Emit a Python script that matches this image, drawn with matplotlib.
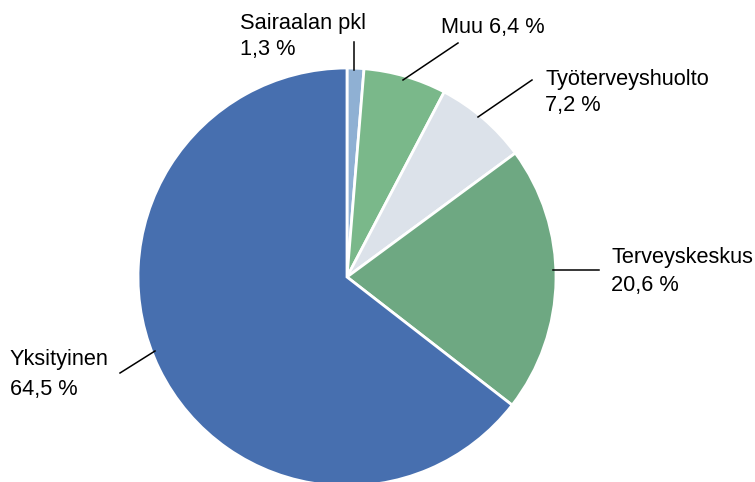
import matplotlib.pyplot as plt

W, H = 755, 482

categories = ['Sairaalan pkl', 'Muu', 'Työterveyshuolto', 'Terveyskeskus', 'Yksityinen']
shares = [1.3, 6.4, 7.2, 20.6, 64.5]
colors = ['#8FB0D3', '#7AB88A', '#DCE2EA', '#6EA882', '#476FAF']

plt.rcParams['font.family'] = ['Liberation Sans', 'DejaVu Sans']

fig = plt.figure(figsize=(W / 100, H / 100), dpi=100)
ax = fig.add_axes([0, 0, 1, 1])

# pixel coords, y measured from the top
def py(y):
    return H - y

ax.pie(shares, colors=colors, startangle=90, counterclock=False,
       center=(347, py(277)), radius=209,
       wedgeprops=dict(edgecolor='white', linewidth=2))
ax.set_xlim(0, W)
ax.set_ylim(0, H)
ax.set_aspect('equal')
ax.axis('off')

def pct(v):
    return f'{v:.1f}'.replace('.', ',') + ' %'

fs = 15.7
# leader lines
leaders = [((354, 70), (354, 42)),
           ((403, 80), (458, 43)),
           ((478, 117), (532, 80)),
           ((553, 270), (599, 270)),
           ((155, 351), (120, 373))]
for (x0, y0), (x1, y1) in leaders:
    ax.plot([x0, x1], [py(y0), py(y1)], color='black', lw=1.1)

ax.text(240, py(24), categories[0], fontsize=fs, va='center', ha='left')
ax.text(240, py(50), pct(shares[0]), fontsize=fs, va='center', ha='left')
ax.text(441, py(27), f'{categories[1]} {pct(shares[1])}', fontsize=fs, va='center', ha='left')
ax.text(545, py(80), categories[2], fontsize=fs, va='center', ha='left')
ax.text(545, py(105), pct(shares[2]), fontsize=fs, va='center', ha='left')
ax.text(611, py(257), categories[3], fontsize=fs, va='center', ha='left')
ax.text(611, py(286), pct(shares[3]), fontsize=fs, va='center', ha='left')
ax.text(10, py(360), categories[4], fontsize=fs, va='center', ha='left')
ax.text(10, py(389), pct(shares[4]), fontsize=fs, va='center', ha='left')

fig.savefig('out.png', dpi=100)
